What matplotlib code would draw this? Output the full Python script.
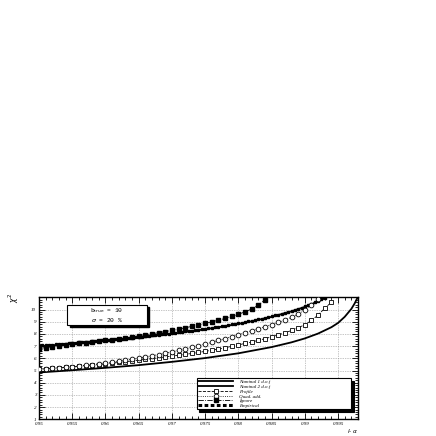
import numpy as np
import matplotlib
matplotlib.use("Agg")
import matplotlib.pyplot as plt
from matplotlib.patches import Rectangle
from matplotlib.lines import Line2D
from matplotlib.ticker import MultipleLocator

# ---- data ----
nom1_x = [0.950, 0.955, 0.960, 0.965, 0.970, 0.975, 0.980, 0.985, 0.988, 0.990,
          0.992, 0.994, 0.995, 0.996, 0.997, 0.9975, 0.998]
nom1_y = [3.84, 4.02, 4.22, 4.44, 4.71, 5.02, 5.41, 5.92, 6.31, 6.63,
          7.03, 7.55, 7.90, 8.40, 9.05, 9.50, 10.05]

nom2_x = [0.950, 0.9525, 0.955, 0.9575, 0.960, 0.9625, 0.965, 0.9675, 0.970, 0.9725,
          0.975, 0.9775, 0.980, 0.9825, 0.985, 0.988, 0.990, 0.991, 0.992, 0.993, 0.9935]
nom2_y = [5.99, 6.09, 6.20, 6.32, 6.44, 6.57, 6.70, 6.85, 7.01, 7.19,
          7.38, 7.59, 7.82, 8.09, 8.40, 8.85, 9.21, 9.42, 9.66, 9.92, 10.07]

profile_y = [4.10, 4.14, 4.18, 4.22, 4.26, 4.30, 4.35, 4.40, 4.44, 4.49,
             4.54, 4.60, 4.66, 4.72, 4.78, 4.85, 4.91, 4.97, 5.04, 5.11,
             5.18, 5.25, 5.32, 5.40, 5.48, 5.57, 5.66, 5.76, 5.87, 5.98,
             6.10, 6.22, 6.34, 6.47, 6.61, 6.76, 6.92, 7.09, 7.28, 7.50,
             7.76, 8.10, 8.55, 9.10, 9.60]
quad_y = [4.12, 4.15, 4.19, 4.23, 4.27, 4.32, 4.37, 4.43, 4.49, 4.55,
          4.62, 4.69, 4.77, 4.85, 4.93, 5.02, 5.11, 5.21, 5.31, 5.42,
          5.53, 5.65, 5.77, 5.90, 6.03, 6.17, 6.31, 6.46, 6.62, 6.78,
          6.95, 7.11, 7.27, 7.43, 7.59, 7.76, 7.94, 8.14, 8.37, 8.64,
          8.97, 9.40, 9.90]
ignore_y = [5.80, 5.88, 5.95, 6.02, 6.09, 6.16, 6.22, 6.28, 6.34, 6.40,
            6.46, 6.52, 6.58, 6.65, 6.72, 6.85, 6.93, 7.01, 7.10, 7.19,
            7.29, 7.39, 7.50, 7.62, 7.74, 7.86, 7.99, 8.12, 8.27, 8.43,
            8.61, 8.81, 9.04, 9.35, 9.80]
empirical_y = [6.04, 6.06, 6.08, 6.10, 6.12, 6.14, 6.17, 6.19, 6.21, 6.23,
               6.25, 6.27, 6.30, 6.32, 6.34, 6.37, 6.39, 6.41, 6.44, 6.46,
               6.49, 6.51, 6.54, 6.56, 6.59, 6.62, 6.64, 6.67, 6.70, 6.73,
               6.75, 6.78, 6.81, 6.84, 6.87, 6.90, 6.93, 6.97, 7.00, 7.03,
               7.06, 7.10, 7.13, 7.17, 7.20, 7.24, 7.27, 7.31, 7.35, 7.39,
               7.43, 7.47, 7.51, 7.55, 7.59, 7.64, 7.68, 7.73, 7.78, 7.82,
               7.87, 7.92, 7.98, 8.03, 8.08, 8.14, 8.20, 8.26, 8.32, 8.38,
               8.45, 8.52, 8.59, 8.66, 8.74, 8.81, 8.90, 8.98, 9.07, 9.16,
               9.26, 9.36, 9.47, 9.59, 9.71, 9.84, 9.97]

step_x = 0.001      # Profile / Quad. add. / Ignore points
emp_step_x = 0.0005  # Empirical points

labels = ["Nominal 1 d.o.f", "Nominal 2 d.o.f", "Profile", "Quad. add.", "Ignore", "Empirical"]
box_lines = [r"b$_{\mathrm{true}}$ = 10", r"$\sigma$ = 20 %"]
xticks = [0.95, 0.955, 0.96, 0.965, 0.97, 0.975, 0.98, 0.985, 0.99, 0.995]


def grid(n, step):
    return np.round(0.95 + step * np.arange(n), 4)


serif = ["Liberation Serif", "DejaVu Serif"]
fig = plt.figure(figsize=(4.36, 4.36), dpi=100)
ax = fig.add_axes([0.0894, 0.0383, 0.7317, 0.2798])

ax.plot(nom1_x, nom1_y, color="k", lw=1.3, zorder=3)
ax.plot(nom2_x, nom2_y, color="k", lw=1.3, zorder=3)
ax.plot(grid(len(empirical_y), emp_step_x), empirical_y, ls="none", marker="s",
        ms=1.6, color="k", zorder=4)
ax.plot(grid(len(profile_y), step_x), profile_y, ls="--", lw=0.6, marker="s", ms=3.2,
        mfc="white", mec="k", mew=0.6, color="k", zorder=5)
ax.plot(grid(len(quad_y), step_x), quad_y, ls=":", lw=0.6, marker="o", ms=3.4,
        mfc="white", mec="k", mew=0.6, color="k", zorder=5)
ax.plot(grid(len(ignore_y), step_x), ignore_y, ls="-.", lw=0.6, marker="s", ms=3.4,
        color="k", zorder=5)

ax.set_xlim(0.95, 0.998)
ax.set_ylim(0, 10)
ax.set_xticks(xticks)
ax.set_xticklabels([("%g" % t) for t in xticks], fontsize=3.6, family=serif, style="italic")
ax.yaxis.set_major_locator(MultipleLocator(1))
ax.set_yticklabels([str(i) for i in range(11)], fontsize=3.6, family=serif, style="italic")
ax.yaxis.set_minor_locator(MultipleLocator(0.2))
ax.xaxis.set_minor_locator(MultipleLocator(0.001))
ax.tick_params(which="both", direction="in", top=True, right=True, width=0.6, pad=2)
ax.tick_params(which="major", length=4)
ax.tick_params(which="minor", length=2)
ax.grid(True, which="major", ls=(0, (1, 1.5)), lw=0.5, color="0.55")
for s in ax.spines.values():
    s.set_linewidth(1.0)

fig.text(358 / 436, 1 - 431 / 436, r"$l$- $\alpha$", fontsize=4.2,
         family=serif, style="italic", ha="right", va="center")
fig.text(14 / 436, 1 - 298 / 436, r"$\chi^2$", fontsize=5.5, rotation=90,
         ha="center", va="center")

# text box with ROOT-like shadow
ax.add_patch(Rectangle((0.096, 0.755), 0.25, 0.165, transform=ax.transAxes,
                       facecolor="k", edgecolor="k", zorder=6))
ax.add_patch(Rectangle((0.088, 0.775), 0.25, 0.165, transform=ax.transAxes,
                       facecolor="white", edgecolor="k", lw=0.8, zorder=7))
ax.text(0.213, 0.895, box_lines[0], transform=ax.transAxes, fontsize=4.5,
        family="Liberation Mono", ha="center", va="center", zorder=8)
ax.text(0.213, 0.815, box_lines[1], transform=ax.transAxes, fontsize=4.5,
        family="Liberation Mono", ha="center", va="center", zorder=8)

handles = [
    Line2D([], [], color="k", lw=1.3),
    Line2D([], [], color="k", lw=1.3),
    Line2D([], [], color="k", ls="--", lw=0.6, marker="s", ms=3.2, mfc="white", mew=0.6),
    Line2D([], [], color="k", ls=":", lw=0.6, marker="o", ms=3.4, mfc="white", mew=0.6),
    Line2D([], [], color="k", ls="-.", lw=0.6, marker="s", ms=3.4),
    Line2D([], [], color="k", ls=(0, (1.2, 0.8)), lw=2.2),
]
leg = ax.legend(handles, labels, loc="lower left", bbox_to_anchor=(0.486, 0.06, 0.5, 0.3),
                mode="expand", fancybox=False, shadow={"color": "k", "alpha": 1},
                framealpha=1, edgecolor="k", handlelength=7, labelspacing=0.05,
                borderpad=0.3, handletextpad=1.2,
                prop={"family": serif, "style": "italic", "size": 3.6})
leg.get_frame().set_linewidth(0.8)
leg.set_zorder(10)

fig.savefig("out.png", dpi=100)
